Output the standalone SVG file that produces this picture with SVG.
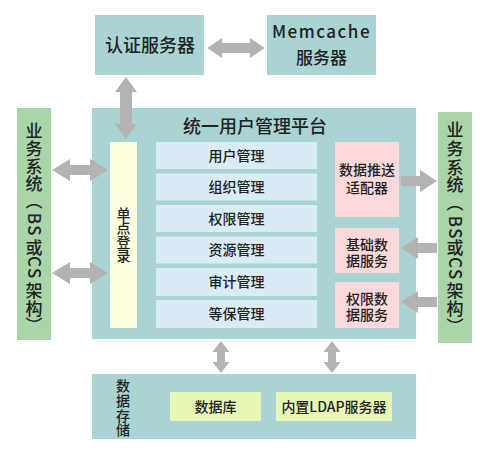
<svg xmlns="http://www.w3.org/2000/svg" width="504" height="456" viewBox="0 0 504 456">
<style>
text{font-family:"Noto Sans CJK SC","Liberation Sans",sans-serif;fill:#222;text-anchor:middle;font-weight:500}
.teal{fill:#a9d4d3}
.menu{fill:#d9ecf5}
.pink{fill:#fbd9da}
.lg{fill:#e6f8b4}
.side{fill:#a9d5a9}
.sso{fill:#fffde0}
.arr{fill:#b3b3b3}
.m{font-size:14px}
.p{font-size:14px}
.s{font-size:17px}
</style>
<rect width="504" height="456" fill="#fff"/>
<g id="auth">
<rect class="teal" x="95" y="15" width="109" height="60"/>
<text x="150" y="52" font-size="18">认证服务器</text>
</g>
<g id="memcache">
<rect class="teal" x="267" y="15" width="109" height="60"/>
<text x="321.5" y="38" font-size="17" letter-spacing="1.5">Memcache</text>
<text x="321.5" y="64" font-size="17">服务器</text>
</g>
<g id="biz-left">
<rect class="side" x="17" y="108" width="34" height="232"/>
<text class="s"><tspan x="34" y="136.5">业</tspan><tspan x="34" y="154.5">务</tspan><tspan x="34" y="172.5">系</tspan><tspan x="34" y="189.5">统</tspan><tspan x="34" y="206.5">︵</tspan><tspan x="34" y="253.5">或</tspan><tspan x="34" y="296.5">架</tspan><tspan x="34" y="314.5">构</tspan><tspan x="34" y="331.5">︶</tspan></text>
<text class="s" transform="translate(34,225) rotate(90)" y="6" letter-spacing="1.5">BS</text>
<text class="s" transform="translate(34,268) rotate(90)" y="6" letter-spacing="1.5">CS</text>
</g>
<g id="biz-right">
<rect class="side" x="438" y="112" width="34" height="231"/>
<text class="s"><tspan x="455" y="135.5">业</tspan><tspan x="455" y="154.5">务</tspan><tspan x="455" y="173.5">系</tspan><tspan x="455" y="191">统</tspan><tspan x="455" y="209">︵</tspan><tspan x="455" y="253.5">或</tspan><tspan x="455" y="296.5">架</tspan><tspan x="455" y="314.5">构</tspan><tspan x="455" y="333">︶</tspan></text>
<text class="s" transform="translate(455,228) rotate(90)" y="6" letter-spacing="1.5">BS</text>
<text class="s" transform="translate(455,269) rotate(90)" y="6" letter-spacing="1.5">CS</text>
</g>
<g id="platform">
<rect class="teal" x="92" y="108" width="324" height="231"/>
<text x="255" y="133" font-size="18" font-weight="700">统一用户管理平台</text>
</g>
<g id="sso">
<rect class="sso" x="110" y="142" width="27" height="186"/>
<text class="p"><tspan x="123.5" y="218.5">单</tspan><tspan x="123.5" y="232.5">点</tspan><tspan x="123.5" y="247">登</tspan><tspan x="123.5" y="261">录</tspan></text>
</g>
<g id="m-user"><rect class="menu" x="156" y="142" width="161" height="27"/><text class="m" x="236.5" y="160.5">用户管理</text></g>
<g id="m-org"><rect class="menu" x="156" y="173.5" width="161" height="27"/><text class="m" x="236.5" y="192">组织管理</text></g>
<g id="m-perm"><rect class="menu" x="156" y="205" width="161" height="27"/><text class="m" x="236.5" y="223.5">权限管理</text></g>
<g id="m-res"><rect class="menu" x="156" y="236.5" width="161" height="27"/><text class="m" x="236.5" y="255">资源管理</text></g>
<g id="m-audit"><rect class="menu" x="156" y="268" width="161" height="28"/><text class="m" x="236.5" y="287">审计管理</text></g>
<g id="m-sec"><rect class="menu" x="156" y="300" width="161" height="28"/><text class="m" x="236.5" y="319">等保管理</text></g>
<g id="push">
<rect class="pink" x="335" y="142" width="64" height="75"/>
<text class="p"><tspan x="367" y="175">数据推送</tspan><tspan x="367" y="193">适配器</tspan></text>
</g>
<g id="basic">
<rect class="pink" x="335" y="228" width="64" height="45"/>
<text class="p"><tspan x="367" y="250">基础数</tspan><tspan x="367" y="265.5">据服务</tspan></text>
</g>
<g id="permdata">
<rect class="pink" x="335" y="282" width="64" height="46"/>
<text class="p"><tspan x="367" y="304">权限数</tspan><tspan x="367" y="319.5">据服务</tspan></text>
</g>
<g id="storage">
<rect class="teal" x="92" y="374" width="324" height="65"/>
<text class="p"><tspan x="123" y="390.5">数</tspan><tspan x="123" y="405.5">据</tspan><tspan x="123" y="420.5">存</tspan><tspan x="123" y="434.5">储</tspan></text>
</g>
<g id="db">
<rect class="lg" x="170" y="392" width="91" height="29"/>
<text class="p" x="215.5" y="411.5">数据库</text>
</g>
<g id="ldap">
<rect class="lg" x="276" y="392" width="116" height="29"/>
<text class="p" x="334" y="411.5">内置LDAP服务器</text>
</g>
<g id="connectors">
<path class="arr" d="M207,48 L222,38 L222,43 L250,43 L250,38 L265,48 L250,58 L250,53 L222,53 L222,58 Z"/>
<path class="arr" d="M126,77 L137,92 L132,92 L132,124 L137,124 L126,139 L115,124 L120,124 L120,92 L115,92 Z"/>
<path class="arr" d="M52,170 L70,159 L70,165 L90,165 L90,159 L108,170 L90,181 L90,175 L70,175 L70,181 Z"/>
<path class="arr" d="M52,273 L70,262 L70,268 L90,268 L90,262 L108,273 L90,284 L90,278 L70,278 L70,284 Z"/>
<path class="arr" d="M401,176 L420,176 L420,170 L437,181 L420,192 L420,186 L401,186 Z"/>
<path class="arr" d="M437,243 L418,243 L418,237 L401,248 L418,259 L418,253 L437,253 Z"/>
<path class="arr" d="M437,297 L418,297 L418,291 L401,302 L418,313 L418,307 L437,307 Z"/>
<path class="arr" d="M221,341 L229.5,352 L225,352 L225,362 L229.5,362 L221,373 L212.5,362 L217,362 L217,352 L212.5,352 Z"/>
<path class="arr" d="M332,341 L340.5,352 L336,352 L336,362 L340.5,362 L332,373 L323.5,362 L328,362 L328,352 L323.5,352 Z"/>
</g>
</svg>
